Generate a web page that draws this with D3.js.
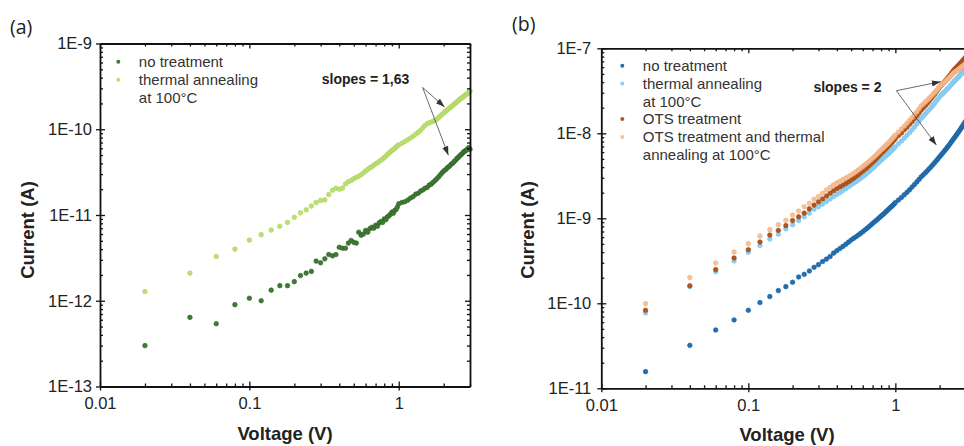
<!DOCTYPE html>
<html><head><meta charset="utf-8">
<script src="https://cdn.jsdelivr.net/npm/d3@7"></script>
<style>body{margin:0;background:#fff}svg{display:block}</style>
</head><body>
<svg id="c" width="964" height="446"></svg>
<script>
// ---------- data (voltage in V; panel a currents in pA, panel b currents in nA) ----------
const voltage = [0.02,0.04,0.06,0.08,0.10,0.12,0.14,0.16,0.18,0.20,
0.22,0.24,0.26,0.28,0.30,0.32,0.34,0.36,0.38,0.40,
0.42,0.44,0.46,0.48,0.50,0.52,0.54,0.56,0.58,0.60,
0.62,0.64,0.66,0.68,0.70,0.72,0.74,0.76,0.78,0.80,
0.82,0.84,0.86,0.88,0.90,0.92,0.94,0.96,0.98,1.00,
1.05,1.10,1.15,1.20,1.25,1.30,1.35,1.40,1.45,1.50,
1.55,1.60,1.65,1.70,1.75,1.80,1.85,1.90,1.95,2.00,
2.05,2.10,2.15,2.20,2.25,2.30,2.35,2.40,2.45,2.50,
2.55,2.60,2.65,2.70,2.75,2.80,2.85,2.90,2.95,3.00];

const aNoTreatment_pA = [0.30,0.64,0.54,0.90,1.07,1.00,1.33,1.50,1.50,1.67,
1.97,2.10,2.20,2.90,2.77,3.08,3.46,3.34,3.46,4.20,
4.10,4.10,4.70,5.05,4.80,4.70,6.30,5.80,6.00,6.60,
6.30,6.90,7.20,7.00,7.60,7.40,8.10,8.40,8.20,9.00,
8.80,9.50,9.80,10.2,10.8,10.5,11.3,11.6,12.4,13.5,
14.0,14.3,14.9,15.8,16.4,17.5,17.9,19.0,19.6,20.5,
21.0,22.3,22.9,24.1,25.2,26.5,27.8,29.5,31.0,32.6,
33.5,35.0,36.3,37.5,39.3,40.2,42.0,43.5,45.6,46.8,
48.5,50.3,51.5,53.8,55.0,56.5,57.2,59.5,61.0,58.5];

const aThermal_pA = [1.28,2.10,3.28,4.00,5.10,5.90,6.67,7.40,8.20,9.40,
10.6,11.5,12.7,14.0,14.8,15.0,17.3,19.4,20.5,20.0,
20.6,23.0,24.5,25.3,26.5,27.5,28.3,29.5,31.0,32.5,
34.0,35.5,36.5,38.0,39.5,40.5,42.0,43.5,45.0,46.8,
48.5,50.5,52.8,54.5,56.5,58.0,60.0,61.8,64.0,66.0,
68.5,72.0,75.5,79.0,83.0,87.5,92.0,97.0,104,111,
116,119,121,124,127,131,137,143,149,155,
161,166,172,178,184,190,196,202,208,215,
221,227,233,239,245,251,258,264,271,278];

const bNoTreatment_nA = [0.0157,0.032,0.0485,0.0637,0.0827,0.102,0.120,0.141,0.157,0.177,
0.204,0.219,0.240,0.265,0.285,0.310,0.331,0.355,0.389,0.416,
0.441,0.467,0.494,0.524,0.555,0.581,0.607,0.635,0.664,0.695,
0.727,0.760,0.795,0.832,0.870,0.905,0.942,0.980,1.02,1.06,
1.10,1.14,1.19,1.23,1.28,1.33,1.37,1.42,1.47,1.53,
1.64,1.76,1.89,2.02,2.17,2.33,2.50,2.68,2.87,3.08,
3.25,3.43,3.62,3.83,4.04,4.27,4.50,4.75,5.02,5.30,
5.57,5.85,6.15,6.46,6.79,7.13,7.49,7.88,8.28,8.70,
9.11,9.54,9.99,10.46,10.95,11.47,12.01,12.58,13.17,13.8];

const bThermal_nA = [0.077,0.157,0.235,0.315,0.398,0.48,0.57,0.65,0.75,0.84,
0.94,1.04,1.15,1.28,1.37,1.47,1.58,1.69,1.80,1.91,
2.01,2.12,2.23,2.35,2.47,2.58,2.70,2.82,2.95,3.08,
3.22,3.38,3.53,3.70,3.87,4.05,4.24,4.43,4.64,4.85,
5.03,5.21,5.40,5.60,5.80,6.02,6.24,6.47,6.71,6.96,
7.52,8.12,8.77,9.47,10.2,11.0,11.9,12.9,13.9,15.0,
15.9,16.9,17.9,19.0,20.1,21.3,22.6,24.0,25.4,27.0,
28.1,29.3,30.5,31.8,33.1,34.4,35.9,37.3,38.9,40.5,
41.9,43.4,44.9,46.4,48.0,49.7,51.4,53.2,55.1,57.0];

const bOts_nA = [0.0827,0.161,0.249,0.341,0.427,0.526,0.635,0.72,0.82,0.94,
1.04,1.15,1.29,1.43,1.56,1.69,1.83,1.97,2.11,2.23,
2.34,2.45,2.57,2.69,2.82,2.96,3.11,3.26,3.43,3.60,
3.77,3.95,4.14,4.35,4.56,4.78,5.02,5.27,5.53,5.80,
6.04,6.29,6.55,6.82,7.10,7.39,7.70,8.01,8.35,8.70,
9.40,10.1,11.0,11.8,12.8,13.8,14.9,16.1,17.4,18.8,
20.0,21.3,22.6,24.0,25.6,27.2,28.9,30.8,32.7,34.8,
36.5,38.2,40.0,41.9,43.9,46.0,48.2,50.5,53.0,55.5,
57.4,59.4,61.5,63.6,65.8,68.1,70.4,72.9,75.4,78.0];

const bOtsThermal_nA = [0.099,0.201,0.298,0.402,0.503,0.62,0.735,0.84,0.946,1.09,
1.22,1.37,1.50,1.67,1.80,1.97,2.15,2.32,2.47,2.62,
2.73,2.85,2.97,3.10,3.23,3.38,3.53,3.70,3.87,4.05,
4.24,4.43,4.64,4.85,5.08,5.31,5.56,5.81,6.08,6.36,
6.61,6.88,7.16,7.45,7.75,8.08,8.43,8.79,9.16,9.55,
10.3,11.2,12.1,13.1,14.2,15.3,16.6,17.9,19.4,21.0,
22.1,23.3,24.5,25.8,27.2,28.7,30.2,31.8,33.5,35.3,
36.7,38.1,39.6,41.1,42.7,44.3,46.1,47.8,49.7,51.6,
52.9,54.2,55.6,56.9,58.4,59.8,61.3,62.8,64.4,66.0];

const xTickValues = [0.01, 0.1, 1];
const xTickLabels = ["0.01", "0.1", "1"];
const aYTickValues = [1e-9, 1e-10, 1e-11, 1e-12, 1e-13];
const aYTickLabels = ["1E-9", "1E-10", "1E-11", "1E-12", "1E-13"];
const bYTickValues = [1e-7, 1e-8, 1e-9, 1e-10, 1e-11];
const bYTickLabels = ["1E-7", "1E-8", "1E-9", "1E-10", "1E-11"];

const aLegend = ["no treatment", "thermal annealing\nat 100°C"];
const bLegend = ["no treatment", "thermal annealing\nat 100°C", "OTS treatment", "OTS treatment and thermal\nannealing at 100°C"];

// ---------- drawing ----------
const FONT = "'Liberation Sans', Arial, sans-serif";
const svg = d3.select('#c');

function panel(cfg) {
  const x = d3.scaleLog().domain([0.01, 3]).range(cfg.xRange);
  const y = d3.scaleLog().domain(cfg.yDomain).range(cfg.yRange);
  const g = svg.append('g');
  const [x0, x1] = cfg.xRange, [y0, y1] = cfg.yRange; // y0 bottom, y1 top

  // data points
  cfg.series.forEach(s => {
    g.append('g').selectAll('circle')
      .data(voltage.map((v, i) => [v, s.values[i] * cfg.unit]))
      .join('circle')
      .attr('cx', d => x(d[0])).attr('cy', d => y(d[1]))
      .attr('r', 2.3).attr('fill', s.color)
      .attr('stroke', s.stroke).attr('stroke-width', 0.6)
      .attr('fill-opacity', s.opacity || 1);
  });

  const minorX = x.ticks().filter(v => !xTickValues.some(t => Math.abs(t - v) / t < 1e-6));
  const minorY = y.ticks().filter(v => !cfg.yTicks.some(t => Math.abs(t - v) / t < 1e-6));

  function style(sel) {
    sel.select('.domain').attr('stroke', '#111').attr('stroke-width', 1.8);
    sel.selectAll('.tick line').attr('stroke', '#111').attr('stroke-width', 1.3);
    sel.selectAll('.tick text').attr('font-family', FONT).attr('font-size', 16.5).attr('fill', '#222');
  }

  // bottom
  const b1 = g.append('g').attr('transform', `translate(0,${y0})`)
    .call(d3.axisBottom(x).tickValues(xTickValues).tickFormat((d, i) => xTickLabels[i]).tickSizeInner(4).tickSizeOuter(0).tickPadding(6.5));
  style(b1);
  const b2 = g.append('g').attr('transform', `translate(0,${y0})`)
    .call(d3.axisBottom(x).tickValues(xTickValues).tickFormat('').tickSize(-5));
  b2.select('.domain').remove(); style(b2);
  const b3 = g.append('g').attr('transform', `translate(0,${y0})`)
    .call(d3.axisBottom(x).tickValues(minorX).tickFormat('').tickSize(-3));
  b3.select('.domain').remove(); style(b3);
  // top
  const t1 = g.append('g').attr('transform', `translate(0,${y1})`)
    .call(d3.axisTop(x).tickValues(xTickValues).tickFormat('').tickSizeInner(-5).tickSizeOuter(0));
  style(t1);
  const t2 = g.append('g').attr('transform', `translate(0,${y1})`)
    .call(d3.axisTop(x).tickValues(minorX).tickFormat('').tickSize(-3));
  t2.select('.domain').remove(); style(t2);
  // left
  const l1 = g.append('g').attr('transform', `translate(${x0},0)`)
    .call(d3.axisLeft(y).tickValues(cfg.yTicks).tickFormat((d, i) => cfg.yLabels[i]).tickSizeInner(4).tickSizeOuter(0).tickPadding(cfg.yPad));
  style(l1);
  const l2 = g.append('g').attr('transform', `translate(${x0},0)`)
    .call(d3.axisLeft(y).tickValues(cfg.yTicks).tickFormat('').tickSize(-5));
  l2.select('.domain').remove(); style(l2);
  const l3 = g.append('g').attr('transform', `translate(${x0},0)`)
    .call(d3.axisLeft(y).tickValues(minorY).tickFormat('').tickSize(-3));
  l3.select('.domain').remove(); style(l3);
  // right (only when the frame fits inside the picture)
  if (cfg.rightAxis) {
    const r1 = g.append('g').attr('transform', `translate(${x1},0)`)
      .call(d3.axisRight(y).tickValues(cfg.yTicks).tickFormat('').tickSizeInner(-5).tickSizeOuter(0));
    style(r1);
    const r2 = g.append('g').attr('transform', `translate(${x1},0)`)
      .call(d3.axisRight(y).tickValues(minorY).tickFormat('').tickSize(-3));
    r2.select('.domain').remove(); style(r2);
  }

  // axis titles
  g.append('text').attr('x', cfg.xTitle[0]).attr('y', cfg.xTitle[1]).attr('text-anchor', 'middle')
    .attr('font-family', FONT).attr('font-weight', 'bold').attr('font-size', 18.5).attr('fill', '#222')
    .text('Voltage (V)');
  g.append('text').attr('transform', `translate(${cfg.yTitle[0]},${cfg.yTitle[1]}) rotate(-90)`).attr('text-anchor', 'middle')
    .attr('font-family', FONT).attr('font-weight', 'bold').attr('font-size', 18.5).attr('fill', '#222')
    .text('Current (A)');
  // panel label
  g.append('text').attr('x', cfg.label[0]).attr('y', cfg.label[1])
    .attr('font-family', "'Open Sans', 'Noto Sans', sans-serif").attr('font-size', 19.5).attr('fill', '#222')
    .text(cfg.labelText);

  // legend
  let row = 0;
  cfg.series.forEach((s, i) => {
    const lines = cfg.legend[i].split('\n');
    const yy = cfg.legendY + row * cfg.legendStep;
    g.append('circle').attr('cx', cfg.legendX).attr('cy', yy).attr('r', 2).attr('fill', s.color)
      .attr('fill-opacity', s.opacity || 1);
    lines.forEach((ln, j) => {
      g.append('text').attr('x', cfg.legendX + 20.5).attr('y', yy + j * cfg.legendStep).attr('dy', '0.35em')
        .attr('font-family', FONT).attr('font-size', 15).attr('fill', '#333').text(ln);
    });
    row += lines.length;
  });

  // slope annotation
  const an = cfg.annot;
  g.append('text').attr('x', x(an.text[0])).attr('y', y(an.text[1]))
    .attr('font-family', FONT).attr('font-weight', 'bold').attr('font-size', 14).attr('fill', '#222').text(an.label);
  an.ends.forEach(e => {
    g.append('line').attr('x1', x(an.start[0])).attr('y1', y(an.start[1]))
      .attr('x2', x(e[0])).attr('y2', y(e[1]))
      .attr('stroke', '#444').attr('stroke-width', 0.8).attr('marker-end', 'url(#arr)');
  });
}

svg.append('defs').append('marker').attr('id', 'arr').attr('viewBox', '0 0 10 10')
  .attr('refX', 10).attr('refY', 5).attr('markerWidth', 9).attr('markerHeight', 9)
  .attr('markerUnits', 'userSpaceOnUse').attr('orient', 'auto')
  .append('path').attr('d', 'M0,1.5 L10,5 L0,8.5 Z').attr('fill', '#333');

panel({
  xRange: [100, 470], yDomain: [1e-13, 1e-9], yRange: [386.5, 43.5], unit: 1e-12,
  yTicks: aYTickValues, yLabels: aYTickLabels, yPad: 4, rightAxis: true,
  series: [
    { values: aNoTreatment_pA, color: '#3f7c33', stroke: '#2c5f24' },
    { values: aThermal_pA, color: '#bbe070', stroke: '#aad25e' }
  ],
  legend: aLegend, legendX: 118.3, legendY: 61.7, legendStep: 18,
  xTitle: [285, 440], yTitle: [34, 230], label: [10, 34], labelText: '(a)',
  annot: { label: 'slopes = 1,63', text: [0.305, 3.4e-10], start: [1.445, 3.07e-10],
           ends: [[2.03, 1.82e-10], [2.15, 4.97e-11]] }
});

panel({
  xRange: [601.3, 965.5], yDomain: [1e-11, 1e-7], yRange: [388.3, 48.3], unit: 1e-9,
  yTicks: bYTickValues, yLabels: bYTickLabels, yPad: 6, rightAxis: false,
  series: [
    { values: bNoTreatment_nA, color: '#2170b5', stroke: '#185a96' },
    { values: bThermal_nA, color: '#8ccff2', stroke: '#7ac3ea' },
    { values: bOts_nA, color: '#b2561f', stroke: '#9a4718' },
    { values: bOtsThermal_nA, color: '#f7bb8e', stroke: '#f0ab78', opacity: 0.9 }
  ],
  legend: bLegend, legendX: 622.3, legendY: 65.7, legendStep: 17.8,
  xTitle: [787, 440.5], yTitle: [534, 230], label: [512, 31], labelText: '(b)',
  annot: { label: 'slopes = 2', text: [0.277, 3.06e-8], start: [1.016, 3.17e-8],
           ends: [[2.036, 4.05e-8], [1.9, 7.28e-9]] }
});
</script>
</body></html>
